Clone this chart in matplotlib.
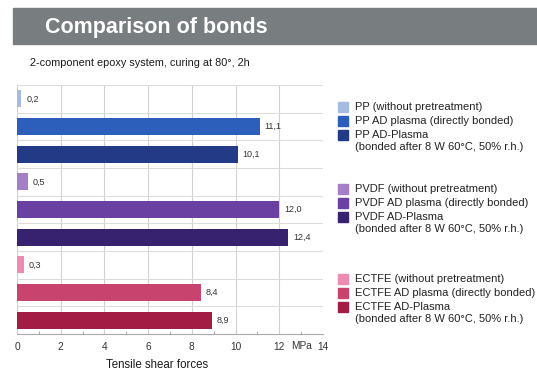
import matplotlib.pyplot as plt
from matplotlib.patches import Rectangle

plt.rcParams['font.family'] = ['Liberation Sans', 'DejaVu Sans']

# data
labels = ['PP (without pretreatment)',
          'PP AD plasma (directly bonded)',
          'PP AD-Plasma\n(bonded after 8 W 60°C, 50% r.h.)',
          'PVDF (without pretreatment)',
          'PVDF AD plasma (directly bonded)',
          'PVDF AD-Plasma\n(bonded after 8 W 60°C, 50% r.h.)',
          'ECTFE (without pretreatment)',
          'ECTFE AD plasma (directly bonded)',
          'ECTFE AD-Plasma\n(bonded after 8 W 60°C, 50% r.h.)']
values = [0.2, 11.1, 10.1, 0.5, 12.0, 12.4, 0.3, 8.4, 8.9]
colors = ['#a6bbe2', '#2c5fbb', '#233a86',
          '#a57ec8', '#6a40a2', '#36226f',
          '#ec8cb2', '#c8446f', '#a31c43']
xticks = [0, 2, 4, 6, 8, 10, 12, 14]

W, H = 537, 372
fig = plt.figure(figsize=(W / 100, H / 100), dpi=100)
fig.patch.set_facecolor('white')

# header band
fig.patches.append(Rectangle((13 / W, 1 - 44 / H), 1 - 13 / W, 36 / H,
                             transform=fig.transFigure, color='#787e7f', zorder=0))
fig.text(45 / W, 1 - 27 / H, 'Comparison of bonds', color='white',
         fontsize=15.5, fontweight='bold', va='center', ha='left')
fig.text(30 / W, 1 - 63 / H, '2-component epoxy system, curing at 80°, 2h',
         fontsize=7.8, color='#1a1a1a', va='center', ha='left')

# bar chart
ax = fig.add_axes([17 / W, 1 - 334 / H, 306 / W, 249 / H])
n = len(values)
ypos = list(range(n))
ax.barh(ypos, values, height=0.62, color=colors, edgecolor='none', zorder=3)
for y, v in zip(ypos, values):
    ax.text(v + 0.22, y, f'{v:.1f}'.replace('.', ','), va='center', ha='left',
            fontsize=6.5, color='#333333', zorder=4)

ax.set_xlim(0, 14)
ax.set_ylim(n - 0.5, -0.5)
ax.set_yticks([])
ax.set_xticks(xticks)
ax.set_xticklabels([str(t) for t in xticks], fontsize=7.3, color='#333333')
ax.set_xticks([1, 3, 5, 7, 9, 11, 13], minor=True)
ax.tick_params(axis='x', which='both', direction='in', length=2, color='#999999', pad=6)
ax.tick_params(axis='x', which='major', length=0)
for x in xticks[:-1]:
    ax.axvline(x, color='#d4d0d0', lw=0.8, zorder=1)
for y in [i + 0.5 for i in range(-1, n - 1)]:
    ax.axhline(y, color='#dcdcdc', lw=0.8, zorder=1)
for s in ['top', 'right', 'left']:
    ax.spines[s].set_visible(False)
ax.spines['bottom'].set_color('#aaaaaa')
ax.spines['bottom'].set_linewidth(0.8)
fig.text(302 / W, 1 - 346 / H, 'MPa', ha='center', va='center',
         fontsize=7.3, color='#333333')
fig.text(157 / W, 1 - 365 / H, 'Tensile shear forces', fontsize=8.3,
         color='#1a1a1a', ha='center', va='center')

# legend
row_y = [107, 121, 135, 189, 203, 217, 279, 293, 307]
for yy, lab, c in zip(row_y, labels, colors):
    fig.patches.append(Rectangle((338 / W, 1 - (yy + 5) / H), 10 / W, 10 / H,
                                 transform=fig.transFigure, color=c))
    if '\n' in lab:
        fig.text(355 / W, 1 - (yy - 5.5) / H, lab, fontsize=8, color='#222222',
                 ha='left', va='top', linespacing=1.3)
    else:
        fig.text(355 / W, 1 - yy / H, lab, fontsize=8, color='#222222',
                 ha='left', va='center')

fig.savefig('out.png', dpi=100)
